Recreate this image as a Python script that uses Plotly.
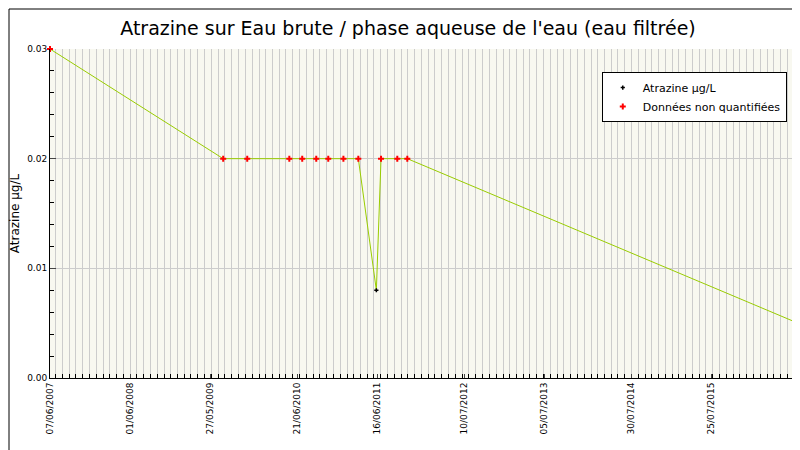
import plotly.graph_objects as go

dates = ["2007-06-07", "2009-07-24", "2009-11-09", "2010-05-17", "2010-07-14", "2010-09-15",
         "2010-11-08", "2011-01-15", "2011-03-23", "2011-06-12", "2011-07-03", "2011-09-14",
         "2011-10-29", "2016-08-18"]
values = [0.03, 0.02, 0.02, 0.02, 0.02, 0.02, 0.02, 0.02, 0.02, 0.008, 0.02, 0.02, 0.02, 0.005]
quantified = [False] * 9 + [True] + [False] * 4
tick_dates = ["2007-06-07", "2008-06-01", "2009-05-27", "2010-06-21", "2011-06-16",
              "2012-07-10", "2013-07-05", "2014-07-30", "2015-07-25", "2016-08-18"]
tick_labels = ["07/06/2007", "01/06/2008", "27/05/2009", "21/06/2010", "16/06/2011",
               "10/07/2012", "05/07/2013", "30/07/2014", "25/07/2015", "18/08/2016"]

L, R, T, B = 42, 10, 41, 80
PW, PH = 800 - L - R, 450 - T - B

fig = go.Figure()
fig.add_trace(go.Scatter(x=dates, y=values, mode="lines", line=dict(color="#99cc00", width=1),
                         showlegend=False, hoverinfo="skip", cliponaxis=False))
qx = [d for d, q in zip(dates, quantified) if q]
qy = [v for v, q in zip(values, quantified) if q]
nx = [d for d, q in zip(dates, quantified) if not q]
ny = [v for v, q in zip(values, quantified) if not q]
fig.add_trace(go.Scatter(x=qx, y=qy, mode="markers", name="Atrazine µg/L", cliponaxis=False,
                         marker=dict(symbol="cross-thin", size=3, color="black",
                                     line=dict(color="black", width=1.5))))
fig.add_trace(go.Scatter(x=nx, y=ny, mode="markers", name="Données non quantifiées", cliponaxis=False,
                         marker=dict(symbol="cross", size=5, color="red")))

fig.update_layout(
    width=800, height=450,
    margin=dict(l=L, r=R, t=T, b=B, autoexpand=False),
    paper_bgcolor="white", plot_bgcolor="#f8f8f0",
    font=dict(family="DejaVu Sans", size=10, color="black"),
    title=dict(text="Atrazine sur Eau brute / phase aqueuse de l'eau (eau filtrée)",
               x=0.5, xanchor="center", y=0.955, yanchor="middle",
               font=dict(size=19)),
    legend=dict(x=0.985, y=0.93, xanchor="right", yanchor="top", bgcolor="white",
                bordercolor="black", borderwidth=1, font=dict(size=11)),
    xaxis=dict(type="date", range=["2007-06-07", "2016-08-18"], tickvals=tick_dates,
               ticktext=tick_labels, tickangle=-90, showline=True, linecolor="black",
               showgrid=False, zeroline=False, ticks="inside", ticklen=4, tickfont=dict(size=9),
               automargin=False,
               minor=dict(dtick="M1", showgrid=True, gridcolor="#cccccc", ticks="inside",
                          ticklen=4, tickcolor="black")),
    yaxis=dict(range=[0, 0.03], tickvals=[0, 0.01, 0.02, 0.03], tickformat=".2f",
               showline=True, linecolor="black", gridcolor="#cccccc", zeroline=False,
               ticks="inside", ticklen=6, tickfont=dict(size=9), automargin=False,
               title=dict(text="Atrazine µg/L", font=dict(size=12), standoff=4),
               minor=dict(dtick=0.002, ticks="inside", ticklen=4, tickcolor="black", showgrid=False)),
    shapes=[dict(type="rect", xref="paper", yref="paper",
                 x0=-(L - 1) / PW, x1=1 + (R - 1) / PW, y0=-(B - 1) / PH, y1=1 + (T - 1) / PH,
                 line=dict(color="black", width=1))],
)
fig.write_html("out.html")
